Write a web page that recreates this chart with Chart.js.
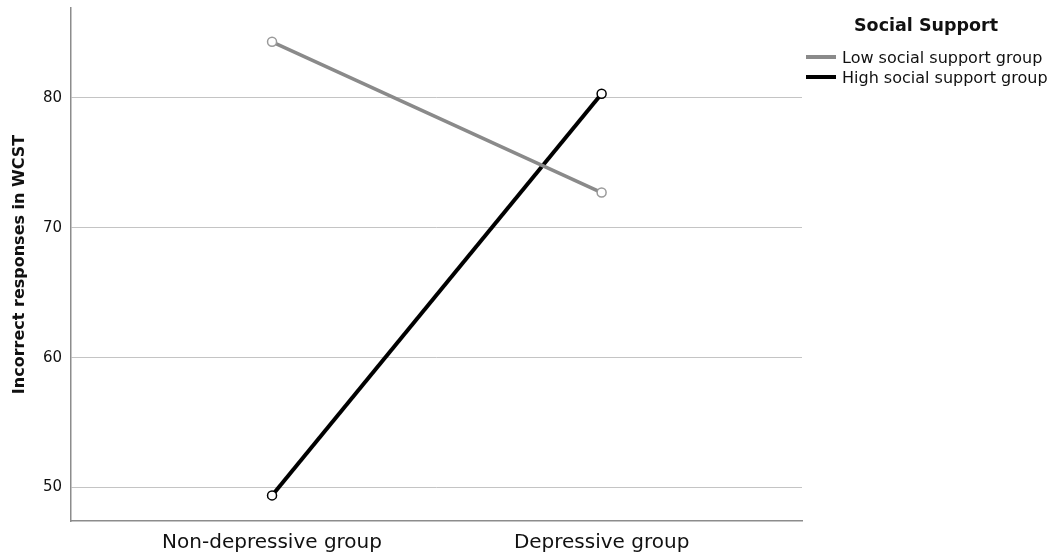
<!DOCTYPE html>
<html>
<head>
<meta charset="utf-8">
<script src="https://cdn.jsdelivr.net/npm/chart.js@4/dist/chart.umd.min.js"></script>
<style>
    body { margin: 0; background: #fff; }
    #wrap { position: relative; width: 1055px; height: 556px; }
    #legend { position: absolute; left: 806px; top: 15px; font-family: "DejaVu Sans", sans-serif; color: #111; }
    #legend .title { font-weight: bold; font-size: 17.5px; margin-left: 48px; margin-bottom: 12px; }
    #legend .item { display: flex; align-items: center; font-size: 16px; height: 20px; }
    #legend .swatch { width: 30px; height: 4px; margin-right: 6px; }
</style>
</head>
<body>
<div id="wrap">
    <canvas id="chart" width="1055" height="556"></canvas>
    <div id="legend"></div>
</div>
<script>
// data
const groups = ['Non-depressive group', 'Depressive group'];
const lowSupport = [84.3, 72.7];
const highSupport = [49.4, 80.3];
const yTicks = [50, 60, 70, 80];
const seriesNames = ['Low social support group', 'High social support group'];
const legendTitle = 'Social Support';

const seriesColors = ['#8a8a8a', '#000000'];
const markerColors = ['#9a9a9a', '#000000'];

function toPoints(values) {
    return values.map((v, i) => ({ x: i, y: v }));
}

const datasets = [lowSupport, highSupport].map((vals, i) => ({
    label: seriesNames[i],
    data: toPoints(vals),
    borderColor: seriesColors[i],
    borderWidth: i === 0 ? 3.5 : 4,
    pointRadius: 4.5,
    pointBorderWidth: 1.5,
    pointBorderColor: markerColors[i],
    pointBackgroundColor: '#fff',
    tension: 0
}));

// html legend
const legend = document.getElementById('legend');
legend.innerHTML = `<div class="title">${legendTitle}</div>` +
    seriesNames.map((n, i) =>
        `<div class="item"><span class="swatch" style="background:${seriesColors[i]}"></span>${n}</div>`
    ).join('');

new Chart(document.getElementById('chart'), {
    type: 'line',
    data: { datasets },
    options: {
        responsive: false,
        animation: false,
        layout: { padding: { top: 8, right: 253, left: 0, bottom: 0 } },
        plugins: {
            legend: { display: false },
            tooltip: { enabled: false }
        },
        scales: {
            x: {
                type: 'linear',
                min: -0.61,
                max: 1.608,
                afterBuildTicks: (scale) => {
                    scale.ticks = groups.map((_, i) => ({ value: i }));
                },
                afterFit: (scale) => {
                    scale.height = 35;
                    scale.paddingLeft = 0;
                    scale.paddingRight = 0;
                },
                ticks: {
                    callback: (v) => groups[v],
                    color: '#111',
                    padding: 10,
                    maxRotation: 0,
                    autoSkip: false,
                    font: { family: 'DejaVu Sans', size: 20 }
                },
                grid: { color: 'rgba(0,0,0,0)', drawTicks: false },
                border: { color: '#8c8c8c', width: 1.5 }
            },
            y: {
                min: 47.43,
                max: 86.9,
                afterBuildTicks: (scale) => {
                    scale.ticks = yTicks.map(v => ({ value: v }));
                },
                afterFit: (scale) => {
                    scale.width = 71;
                    scale.paddingTop = 0;
                    scale.paddingBottom = 0;
                },
                ticks: {
                    color: '#111',
                    padding: 9,
                    font: { family: 'DejaVu Sans', size: 15 }
                },
                grid: { color: '#c4c4c4', lineWidth: 1, drawTicks: false },
                border: { color: '#8c8c8c', width: 1.5 },
                title: {
                    display: true,
                    text: 'Incorrect responses in WCST',
                    color: '#111',
                    padding: { top: 10, bottom: 0 },
                    font: { family: 'DejaVu Sans', size: 16, weight: 'bold' }
                }
            }
        }
    }
});
</script>
</body>
</html>
